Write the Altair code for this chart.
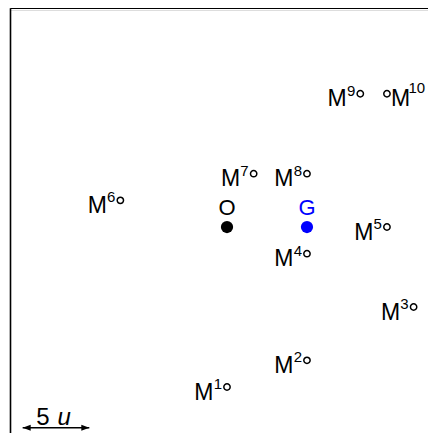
import altair as alt
import pandas as pd

# ---- data (units: 1 grid unit, y up, O at origin) ----
m_labels = ["1", "2", "3", "4", "5", "6", "7", "8", "9", "10"]
m_x = [0, 6, 14, 6, 12, -8, 2, 6, 10, 12]
m_y = [-12, -10, -6, -2, 0, 2, 4, 4, 10, 10]

center_names = ["O", "G"]
center_x = [0, 6]
center_y = [0, 0]
center_colors = ["#000000", "#0000ff"]

scale_start = -15.33
scale_len = 5
scale_y = -15.05

x_domain = [-16.28, 15.08]
y_domain = [-15.45, 16.28]

W, H = 418, 423
FONT = "Liberation Sans"

mdf = pd.DataFrame({"label": m_labels, "x": m_x, "y": m_y})
cdf = pd.DataFrame({"name": center_names, "x": center_x, "y": center_y, "color": center_colors})
sdf = pd.DataFrame({
    "x": [scale_start],
    "x2": [scale_start + scale_len],
    "xm": [scale_start + scale_len / 2],
    "y": [scale_y],
})

xs = alt.Scale(domain=x_domain, nice=False, zero=False)
ys = alt.Scale(domain=y_domain, nice=False, zero=False)
X = alt.X("x:Q", scale=xs, axis=None)
Y = alt.Y("y:Q", scale=ys, axis=None)

# frame (left and top lines only)
frame_left = alt.Chart(sdf).mark_rule(color="black", strokeWidth=1.6).encode(
    x=alt.value(0.5), y=alt.value(-1.8), y2=alt.value(H + 20))
frame_top = alt.Chart(sdf).mark_rule(color="black", strokeWidth=1.6).encode(
    x=alt.value(0.5), x2=alt.value(W + 30), y=alt.value(-1.8))

base_m = alt.Chart(mdf)
circles = base_m.mark_point(shape="circle", filled=False, color="black",
                            strokeWidth=1.5, size=40, opacity=1).encode(x=X, y=Y)

m_text = base_m.transform_filter("datum.label != '10'").mark_text(
    text="M", align="right", baseline="alphabetic", dx=-13.5, dy=12.5,
    fontSize=23, font=FONT, color="black").encode(x=X, y=Y)
m_sup = base_m.transform_filter("datum.label != '10'").mark_text(
    align="right", baseline="alphabetic", dx=-5, dy=2,
    fontSize=15, font=FONT, color="black").encode(x=X, y=Y, text="label:N")

m10_text = base_m.transform_filter("datum.label == '10'").mark_text(
    text="M", align="left", baseline="alphabetic", dx=4, dy=12.5,
    fontSize=23, font=FONT, color="black").encode(x=X, y=Y)
m10_sup = base_m.transform_filter("datum.label == '10'").mark_text(
    align="left", baseline="alphabetic", dx=21.5, dy=-0.5,
    fontSize=15, font=FONT, color="black").encode(x=X, y=Y, text="label:N")

base_c = alt.Chart(cdf)
dots = base_c.mark_point(shape="circle", filled=True, size=150, opacity=1).encode(
    x=X, y=Y, color=alt.Color("color:N", scale=None))
c_text = base_c.mark_text(align="center", baseline="alphabetic", dy=-12,
                          fontSize=22, font=FONT).encode(
    x=X, y=Y, text="name:N", color=alt.Color("color:N", scale=None))

base_s = alt.Chart(sdf)
bar = base_s.mark_rule(color="black", strokeWidth=1.5).encode(
    x=X, x2="x2:Q", y=Y)
head_l = base_s.mark_point(shape="M-1,0L1,-0.75L1,0.75Z", filled=True, color="black",
                           size=64, opacity=1, xOffset=4).encode(x=X, y=Y)
head_r = base_s.mark_point(shape="M1,0L-1,-0.75L-1,0.75Z", filled=True, color="black",
                           size=64, opacity=1, xOffset=-4).encode(
    x=alt.X("x2:Q", scale=xs, axis=None), y=Y)
five = base_s.mark_text(text="5", align="right", baseline="alphabetic", dx=-6.5, dy=-2.7,
                        fontSize=24, font=FONT, color="black").encode(
    x=alt.X("xm:Q", scale=xs, axis=None), y=Y)
uu = base_s.mark_text(text="u", align="left", baseline="alphabetic", dx=1.5, dy=-2.7,
                      fontSize=24, font=FONT, fontStyle="italic", color="black").encode(
    x=alt.X("xm:Q", scale=xs, axis=None), y=Y)

chart = alt.layer(
    frame_left, frame_top, circles, m_text, m_sup, m10_text, m10_sup,
    dots, c_text, bar, head_l, head_r, five, uu
).properties(
    width=W, height=H,
    autosize=alt.AutoSizeParams(type="none"),
    padding={"left": 2, "top": 2, "right": 0, "bottom": 0},
).configure_view(stroke=None).configure(background="white")

chart.save("out.html", embed_options={"renderer": "svg", "actions": False})
